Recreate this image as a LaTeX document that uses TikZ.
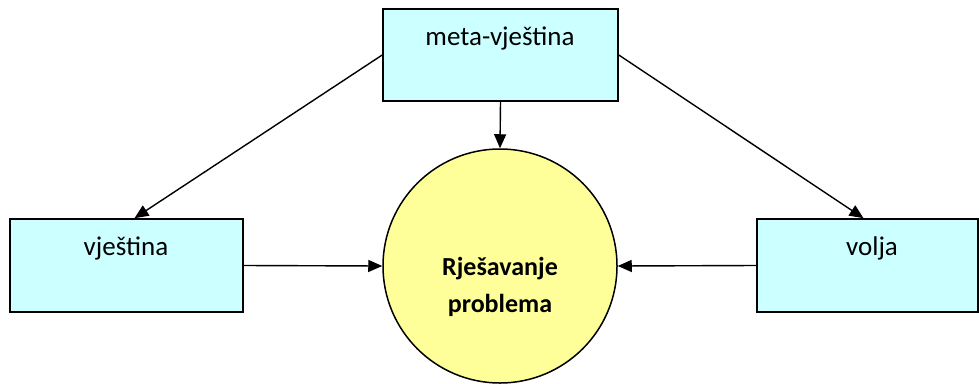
\documentclass[tikz,border=0pt]{standalone}
\usepackage{fontspec}
\setmainfont{Carlito}
\usetikzlibrary{arrows.meta}
\definecolor{boxcyan}{HTML}{CCFFFF}
\definecolor{circyellow}{HTML}{FFFF99}
\begin{document}
\begin{tikzpicture}[x=1pt,y=-1pt,
  box/.style={draw=black,line width=1.6pt,fill=boxcyan,rectangle,inner sep=0pt},
  lbl/.style={font=\fontsize{27}{32}\selectfont,inner sep=0pt},
  arr/.style={line width=1.4pt,-{Triangle[length=14pt,width=12pt]}}]
\useasboundingbox (0,0) rectangle (979,383);
\node[box,minimum width=235pt,minimum height=92pt] (top) at (500.5,55) {};
\node[box,minimum width=233pt,minimum height=93pt] (left) at (126.5,265.5) {};
\node[box,minimum width=221pt,minimum height=93pt] (right) at (867.5,265.5) {};
\node[circle,draw=black,line width=1.5pt,fill=circyellow,minimum size=234pt,inner sep=0pt] (circ) at (500,266) {};
\node[lbl] (ttop) at (500,38) {meta-vještina};
\node[lbl] (tleft) at (126,248) {vještina};
\node[lbl] (tright) at (872,248) {volja};
\node[lbl,font=\bfseries\fontsize{26}{37}\selectfont,align=center] (tcirc) at (500,287) {Rješavanje\\problema};
\draw[arr] (top.south) -- (circ.north);
\draw[arr] (top.west) -- ([xshift=8pt]left.north);
\draw[arr] (top.east) -- ([xshift=-4pt]right.north);
\draw[arr] (left.east) -- (circ.west);
\draw[arr] (right.west) -- (circ.east);
\end{tikzpicture}
\end{document}
